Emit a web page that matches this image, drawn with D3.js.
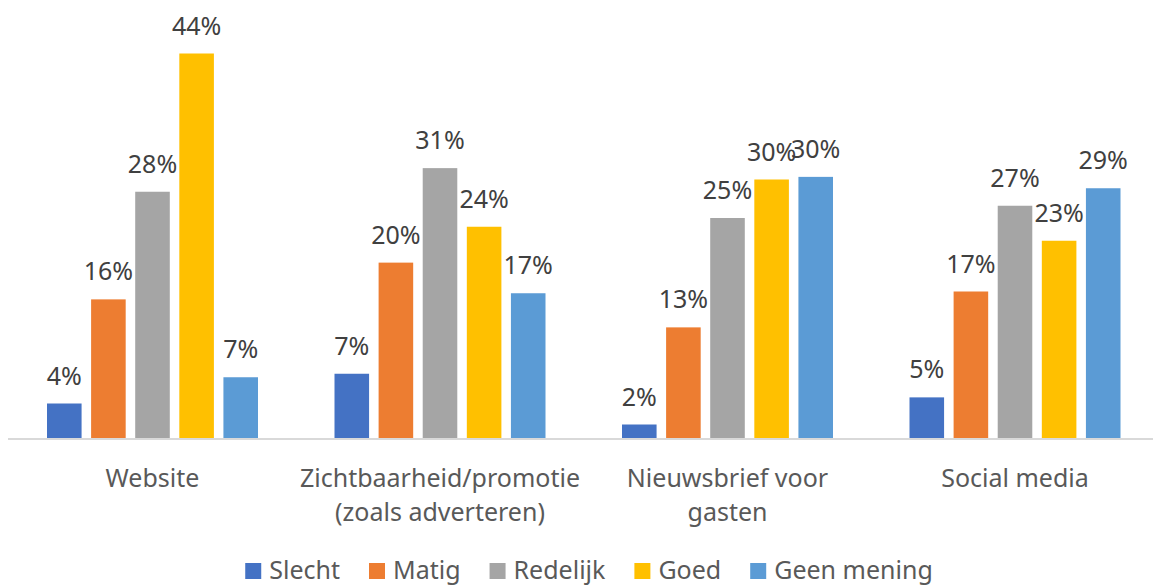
<!DOCTYPE html>
<html>
<head>
<meta charset="utf-8">
<script src="https://cdn.jsdelivr.net/npm/d3@7"></script>
<style>
  html, body { margin: 0; padding: 0; background: #fff; }
  svg { display: block; }
  text { font-family: "Noto Sans", sans-serif; }
</style>
</head>
<body>
<svg id="chart" width="1154" height="586"></svg>
<script>
// ---- data ----
const categories = [
  ["Website"],
  ["Zichtbaarheid/promotie", "(zoals adverteren)"],
  ["Nieuwsbrief voor", "gasten"],
  ["Social media"]
];
const seriesNames = ["Slecht", "Matig", "Redelijk", "Goed", "Geen mening"];
const seriesColors = ["#4472C4", "#ED7D31", "#A5A5A5", "#FFC000", "#5B9BD5"];
// values in percent, per series, in category order
const slecht     = [4.0, 7.4, 1.6, 4.7];
const matig      = [15.9, 20.1, 12.7, 16.8];
const redelijk   = [28.2, 30.9, 25.2, 26.6];
const goed       = [44.0, 24.2, 29.6, 22.6];
const geenMening = [7.0, 16.6, 29.9, 28.6];
const yDomain = [0, 50];

const seriesValues = [slecht, matig, redelijk, goed, geenMening];

const svg = d3.select("#chart");
const baseY = 438.5;

const x0 = d3.scaleBand()
  .domain(d3.range(categories.length))
  .range([8.75, 1158.75])
  .paddingInner(0).paddingOuter(0);

const groupW = 211;
const x1 = d3.scaleBand()
  .domain(seriesNames)
  .range([(x0.bandwidth() - groupW) / 2, (x0.bandwidth() + groupW) / 2])
  .paddingInner(0.216).paddingOuter(0);

const y = d3.scaleLinear().domain(yDomain).range([baseY, baseY - 50 * 8.75]);

// bars
const groups = svg.append("g").selectAll("g")
  .data(categories.map((c, i) => i))
  .join("g")
  .attr("transform", i => `translate(${x0(i)},0)`);

groups.selectAll("rect")
  .data(i => seriesNames.map((s, k) => ({ s, k, v: seriesValues[k][i] })))
  .join("rect")
  .attr("x", d => x1(d.s))
  .attr("width", x1.bandwidth())
  .attr("y", d => y(d.v))
  .attr("height", d => baseY - y(d.v))
  .attr("fill", d => seriesColors[d.k]);

groups.selectAll("text.val")
  .data(i => seriesNames.map((s, k) => ({ s, k, v: seriesValues[k][i] })))
  .join("text")
  .attr("class", "val")
  .attr("x", d => x1(d.s) + x1.bandwidth() / 2)
  .attr("y", d => y(d.v) - 19)
  .attr("text-anchor", "middle")
  .attr("font-size", 25)
  .attr("fill", "#404040")
  .text(d => Math.round(d.v) + "%");

// axis line
svg.append("line")
  .attr("x1", 8).attr("x2", 1153)
  .attr("y1", baseY + 0.5).attr("y2", baseY + 0.5)
  .attr("stroke", "#d9d9d9").attr("stroke-width", 2);

// category labels
const catG = svg.append("g").selectAll("text")
  .data(categories)
  .join("text")
  .attr("x", (c, i) => x0(i) + x0.bandwidth() / 2)
  .attr("y", 487)
  .attr("text-anchor", "middle")
  .attr("font-size", 25)
  .attr("fill", "#595959");
catG.selectAll("tspan")
  .data(c => c)
  .join("tspan")
  .attr("x", function () { return this.parentNode.getAttribute("x"); })
  .attr("dy", (d, j) => j === 0 ? 0 : 34)
  .text(d => d);

// legend
const legend = svg.append("g");
const items = legend.selectAll("g")
  .data(seriesNames)
  .join("g");
items.append("rect")
  .attr("width", 16).attr("height", 16)
  .attr("y", 563)
  .attr("fill", (d, k) => seriesColors[k]);
items.append("text")
  .attr("x", 24).attr("y", 579)
  .attr("font-size", 25)
  .attr("fill", "#595959")
  .text(d => d);
let cx = 0;
const offs = [];
items.each(function () {
  offs.push(cx);
  const w = d3.select(this).select("text").node().getComputedTextLength();
  cx += 24 + w + 29;
});
const total = cx - 29;
const startX = 589 - total / 2;
items.attr("transform", (d, k) => `translate(${startX + offs[k]},0)`);
</script>
</body>
</html>
